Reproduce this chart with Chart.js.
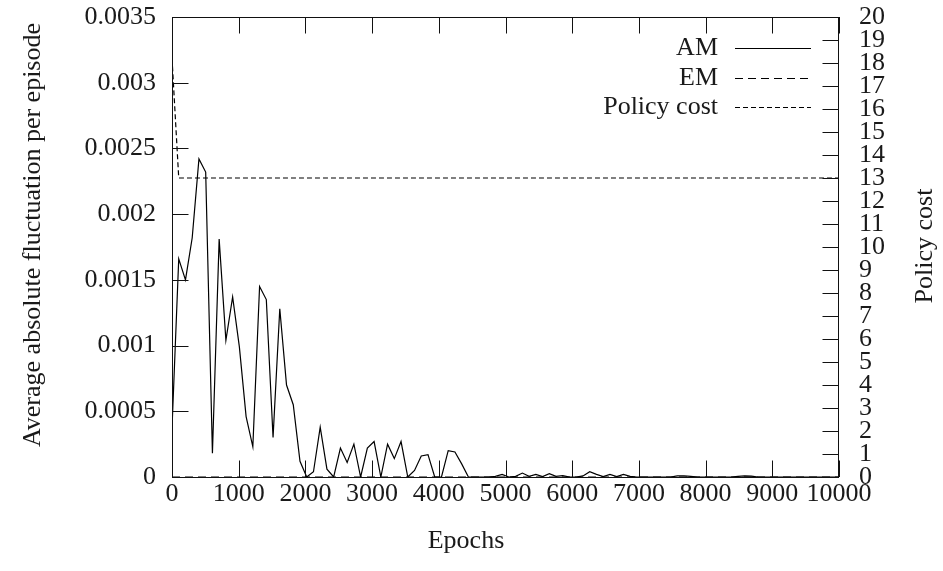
<!DOCTYPE html>
<html>
<head>
<meta charset="utf-8">
<script src="https://cdn.jsdelivr.net/npm/chart.js@4/dist/chart.umd.min.js"></script>
<style>
  body { margin: 0; background: #fff; }
  #wrap { width: 943px; height: 571px; }
</style>
</head>
<body>
<div id="wrap"><canvas id="lineChart" width="943" height="571"></canvas></div>
<script>
// sample epochs (100 samples between 0 and 10000)
var epochs = [
    0, 101, 202, 303, 404, 505, 606, 707, 808, 909,
    1010, 1111, 1212, 1313, 1414, 1515, 1616, 1717, 1818, 1919,
    2020, 2121, 2222, 2323, 2424, 2525, 2626, 2727, 2828, 2929,
    3030, 3131, 3232, 3333, 3434, 3535, 3636, 3737, 3838, 3939,
    4040, 4141, 4242, 4343, 4444, 4545, 4646, 4747, 4848, 4949,
    5051, 5152, 5253, 5354, 5455, 5556, 5657, 5758, 5859, 5960,
    6061, 6162, 6263, 6364, 6465, 6566, 6667, 6768, 6869, 6970,
    7071, 7172, 7273, 7374, 7475, 7576, 7677, 7778, 7879, 7980,
    8081, 8182, 8283, 8384, 8485, 8586, 8687, 8788, 8889, 8990,
    9091, 9192, 9293, 9394, 9495, 9596, 9697, 9798, 9899, 10000
];

// average absolute fluctuation per episode
var amValues = [
    0.00037, 0.00166, 0.0015, 0.00182, 0.00242, 0.00232, 0.00018, 0.00181, 0.00104, 0.00137,
    0.00099, 0.00046, 0.00023, 0.00145, 0.00135, 0.0003, 0.00128, 0.0007, 0.00055, 0.00012,
    0, 0.00004, 0.00038, 0.00006, 0, 0.00022, 0.00011, 0.00025, 0, 0.00022,
    0.00027, 0, 0.00025, 0.00014, 0.00027, 0, 0.00005, 0.00016, 0.00017, 0,
    0, 0.0002, 0.00019, 0.0001, 0, 0, 0, 0, 0.000005, 0.00002,
    0, 0.000005, 0.00003, 0.000005, 0.00002, 0.000003, 0.000025, 0.000005, 0.00001, 0,
    0, 0.000008, 0.00004, 0.00002, 0.000003, 0.00002, 0.000003, 0.00002, 0.000005, 0,
    0, 0, 0, 0, 0, 0.000008, 0.000008, 0.000005, 0, 0,
    0, 0, 0, 0, 0.000005, 0.000008, 0.000006, 0, 0, 0,
    0, 0, 0, 0, 0, 0, 0, 0, 0, 0
];

var emValues = [
    0, 0, 0, 0, 0, 0, 0, 0, 0, 0,
    0, 0, 0, 0, 0, 0, 0, 0, 0, 0,
    0, 0, 0, 0, 0, 0, 0, 0, 0, 0,
    0, 0, 0, 0, 0, 0, 0, 0, 0, 0,
    0, 0, 0, 0, 0, 0, 0, 0, 0, 0,
    0, 0, 0, 0, 0, 0, 0, 0, 0, 0,
    0, 0, 0, 0, 0, 0, 0, 0, 0, 0,
    0, 0, 0, 0, 0, 0, 0, 0, 0, 0,
    0, 0, 0, 0, 0, 0, 0, 0, 0, 0,
    0, 0, 0, 0, 0, 0, 0, 0, 0, 0
];

// policy cost (right axis)
var policyCost = [
    18.2, 13, 13, 13, 13, 13, 13, 13, 13, 13,
    13, 13, 13, 13, 13, 13, 13, 13, 13, 13,
    13, 13, 13, 13, 13, 13, 13, 13, 13, 13,
    13, 13, 13, 13, 13, 13, 13, 13, 13, 13,
    13, 13, 13, 13, 13, 13, 13, 13, 13, 13,
    13, 13, 13, 13, 13, 13, 13, 13, 13, 13,
    13, 13, 13, 13, 13, 13, 13, 13, 13, 13,
    13, 13, 13, 13, 13, 13, 13, 13, 13, 13,
    13, 13, 13, 13, 13, 13, 13, 13, 13, 13,
    13, 13, 13, 13, 13, 13, 13, 13, 13, 13
];

var seriesNames = ['AM', 'EM', 'Policy cost'];
var xTitle = 'Epochs';
var yTitle = 'Average absolute fluctuation per episode';
var y2Title = 'Policy cost';

var FONT = '"Liberation Serif", "DejaVu Serif", serif';
var INK = '#1a1a1a';

function pts(vals) {
    return vals.map(function(v, i) { return { x: epochs[i], y: v }; });
}

// gnuplot-like frame, inward ticks, axis titles and key
var gnuFrame = {
    id: 'gnuFrame',
    afterDraw: function(chart) {
        var c = chart.ctx, a = chart.chartArea;
        var sx = chart.scales.x, sy = chart.scales.y, sy2 = chart.scales.y2;
        var tl = 16.5;
        c.save();
        c.strokeStyle = '#111';
        c.lineWidth = 1;
        c.beginPath();
        sx.ticks.forEach(function(t) {
            var px = Math.round(sx.getPixelForValue(t.value)) + 0.5;
            c.moveTo(px, a.bottom); c.lineTo(px, a.bottom - tl);
            c.moveTo(px, a.top); c.lineTo(px, a.top + tl);
        });
        sy.ticks.forEach(function(t) {
            var py = Math.round(sy.getPixelForValue(t.value)) + 0.5;
            c.moveTo(a.left, py); c.lineTo(a.left + tl, py);
        });
        sy2.ticks.forEach(function(t) {
            var py = Math.round(sy2.getPixelForValue(t.value)) + 0.5;
            c.moveTo(a.right, py); c.lineTo(a.right - tl, py);
        });
        c.stroke();
        c.strokeRect(a.left + 0.5, a.top + 0.5, a.right - a.left - 1, a.bottom - a.top);

        // titles
        c.fillStyle = INK;
        c.font = '26px ' + FONT;
        c.textAlign = 'center';
        c.textBaseline = 'middle';
        c.fillText(xTitle, 466, 541);
        c.save();
        c.translate(33, 235);
        c.rotate(-Math.PI / 2);
        c.fillText(yTitle, 0, 0);
        c.restore();
        c.save();
        c.translate(925, 246);
        c.rotate(-Math.PI / 2);
        c.fillText(y2Title, 0, 0);
        c.restore();

        // key
        var rows = [48, 78, 107];
        chart.data.datasets.forEach(function(ds, i) {
            c.textAlign = 'right';
            c.fillText(ds.label, 718, rows[i]);
            c.beginPath();
            c.setLineDash(ds.borderDash || []);
            c.lineWidth = 1.2;
            c.strokeStyle = ds.borderColor;
            c.moveTo(735, rows[i] + 0.5);
            c.lineTo(811, rows[i] + 0.5);
            c.stroke();
        });
        c.restore();
    }
};

// keep tick labels from pushing the plot box around
function noPad(s) {
    s.paddingTop = 0;
    s.paddingBottom = 0;
    s.paddingLeft = 0;
    s.paddingRight = 0;
}

var ctx = document.getElementById('lineChart').getContext('2d');
var myChart = new Chart(ctx, {
    type: 'line',
    data: {
        datasets: [{
            label: seriesNames[0],
            data: pts(amValues),
            borderColor: '#000',
            borderWidth: 1.2,
            pointRadius: 0,
            yAxisID: 'y'
        }, {
            label: seriesNames[1],
            data: pts(emValues),
            borderColor: '#000',
            borderWidth: 1.2,
            borderDash: [8, 5],
            pointRadius: 0,
            yAxisID: 'y'
        }, {
            label: seriesNames[2],
            data: pts(policyCost),
            borderColor: '#000',
            borderWidth: 1.2,
            borderDash: [5, 3],
            pointRadius: 0,
            yAxisID: 'y2'
        }]
    },
    options: {
        responsive: false,
        animation: false,
        layout: { padding: { top: 17, left: 0, right: 0, bottom: 0 } },
        plugins: {
            legend: { display: false },
            tooltip: { enabled: false }
        },
        scales: {
            x: {
                type: 'linear',
                min: 0,
                max: 10000,
                grid: { display: false },
                border: { display: false },
                ticks: {
                    stepSize: 1000,
                    autoSkip: false,
                    maxRotation: 0,
                    padding: -6,
                    color: INK,
                    font: { family: FONT, size: 26 },
                    callback: function(v) { return String(v); }
                },
                afterFit: function(s) { s.height = 94; noPad(s); }
            },
            y: {
                position: 'left',
                min: 0,
                max: 0.0035,
                grid: { display: false },
                border: { display: false },
                ticks: {
                    stepSize: 0.0005,
                    autoSkip: false,
                    padding: 8,
                    color: INK,
                    font: { family: FONT, size: 26 },
                    callback: function(v) { return String(+v.toFixed(4)); }
                },
                afterFit: function(s) { s.width = 172; noPad(s); }
            },
            y2: {
                position: 'right',
                min: 0,
                max: 20,
                grid: { display: false },
                border: { display: false },
                ticks: {
                    stepSize: 1,
                    autoSkip: false,
                    padding: 12,
                    color: INK,
                    font: { family: FONT, size: 26 },
                    callback: function(v) { return String(v); }
                },
                afterFit: function(s) { s.width = 104; noPad(s); }
            }
        }
    },
    plugins: [gnuFrame]
});
</script>
</body>
</html>
